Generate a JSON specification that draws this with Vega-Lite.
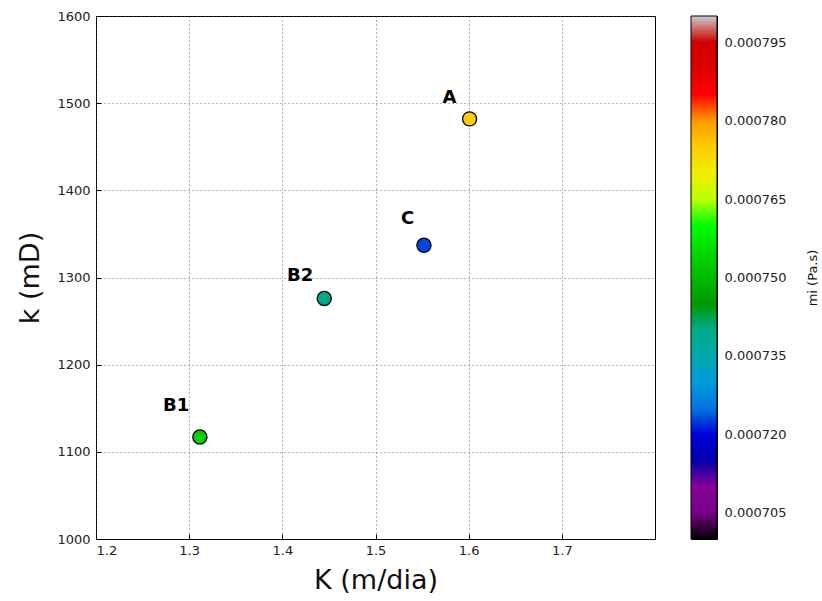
{
  "$schema": "https://vega.github.io/schema/vega-lite/v6.json",
  "padding": {"left": 16, "top": 9, "right": 5, "bottom": 5},
  "config": {
    "font": "DejaVu Sans",
    "view": {"stroke": "black", "strokeWidth": 1},
    "axis": {"labelFont": "DejaVu Sans", "titleFont": "DejaVu Sans", "labelColor": "#222", "titleColor": "#111", "titleFontWeight": "normal", "domain": false, "tickColor": "black"}
  },
  "datasets": {
    "pts": [
      {"name": "A", "K": 1.601, "k": 1482, "mi": 0.000775, "label_x": 1.572, "label_y": 1500},
      {"name": "C", "K": 1.552, "k": 1337, "mi": 0.000723, "label_x": 1.5275, "label_y": 1361},
      {"name": "B2", "K": 1.445, "k": 1276, "mi": 0.00074, "label_x": 1.405, "label_y": 1296},
      {"name": "B1", "K": 1.3115, "k": 1117, "mi": 0.000753, "label_x": 1.272, "label_y": 1147}
    ],
    "bar": [{"lo": 0.0007, "hi": 0.0008}]
  },
  "hconcat": [
    {
      "width": 559,
      "height": 523,
      "data": {"name": "pts"},
      "layer": [
        {
          "mark": {"type": "point", "filled": true, "size": 200, "stroke": "black", "strokeWidth": 1.3, "opacity": 1, "shape": "circle"},
          "encoding": {
            "x": {"field": "K", "type": "quantitative", "scale": {"domain": [1.2, 1.8], "nice": false, "zero": false},
              "axis": {"values": [1.2, 1.3, 1.4, 1.5, 1.6, 1.7], "format": ".1f", "title": "K (m/dia)", "titleFontSize": 27, "labelFontSize": 13, "tickSize": -5, "labelPadding": 10, "titlePadding": 10, "gridDash": [1, 3], "gridColor": "#444", "gridOpacity": 1, "gridWidth": 0.8}},
            "y": {"field": "k", "type": "quantitative", "scale": {"domain": [1000, 1600], "nice": false, "zero": false},
              "axis": {"values": [1000, 1100, 1200, 1300, 1400, 1500, 1600], "format": "d", "title": "k (mD)", "titleFontSize": 27, "labelFontSize": 13, "tickSize": -5, "labelPadding": 11, "titlePadding": 12, "gridDash": [1, 3], "gridColor": "#444", "gridOpacity": 1, "gridWidth": 0.8}},
            "fill": {"field": "mi", "type": "quantitative", "legend": null,
              "scale": {"type": "linear", "interpolate": "rgb",
                "domain": [0.0007, 0.000705, 0.00071, 0.000715, 0.00072, 0.000725, 0.00073, 0.000735, 0.00074, 0.000745, 0.00075, 0.000755, 0.00076, 0.000765, 0.00077, 0.000775, 0.00078, 0.000785, 0.00079, 0.000795, 0.0008],
                "range": ["#000000", "#770088", "#880099", "#0000aa", "#0000dd", "#0077dd", "#0099dd", "#00aaaa", "#00aa88", "#009900", "#00bb00", "#00dd00", "#00ff00", "#bbff00", "#eeee00", "#ffcc00", "#ff9900", "#ff0000", "#dd0000", "#cc0000", "#cccccc"]}}
          }
        },
        {
          "mark": {"type": "text", "align": "left", "baseline": "alphabetic", "fontSize": 18, "fontWeight": "bold", "font": "DejaVu Sans", "color": "black"},
          "encoding": {
            "x": {"field": "label_x", "type": "quantitative"},
            "y": {"field": "label_y", "type": "quantitative"},
            "text": {"field": "name"}
          }
        }
      ]
    },
    {
      "width": 26,
      "height": 523,
      "data": {"name": "bar"},
      "mark": {"type": "rect", "stroke": "black", "strokeWidth": 1,
        "fill": {"gradient": "linear", "x1": 0, "y1": 1, "x2": 0, "y2": 0,
          "stops": [
            {"offset": 0.0, "color": "#000000"}, {"offset": 0.05, "color": "#770088"}, {"offset": 0.1, "color": "#880099"}, {"offset": 0.15, "color": "#0000aa"},
            {"offset": 0.2, "color": "#0000dd"}, {"offset": 0.25, "color": "#0077dd"}, {"offset": 0.3, "color": "#0099dd"}, {"offset": 0.35, "color": "#00aaaa"},
            {"offset": 0.4, "color": "#00aa88"}, {"offset": 0.45, "color": "#009900"}, {"offset": 0.5, "color": "#00bb00"}, {"offset": 0.55, "color": "#00dd00"},
            {"offset": 0.6, "color": "#00ff00"}, {"offset": 0.65, "color": "#bbff00"}, {"offset": 0.7, "color": "#eeee00"}, {"offset": 0.75, "color": "#ffcc00"},
            {"offset": 0.8, "color": "#ff9900"}, {"offset": 0.85, "color": "#ff0000"}, {"offset": 0.9, "color": "#dd0000"}, {"offset": 0.95, "color": "#cc0000"},
            {"offset": 1.0, "color": "#cccccc"}
          ]}},
      "encoding": {
        "y": {"field": "lo", "type": "quantitative", "scale": {"domain": [0.0007, 0.0008], "nice": false, "zero": false},
          "axis": {"orient": "right", "values": [0.000705, 0.00072, 0.000735, 0.00075, 0.000765, 0.00078, 0.000795], "format": ".6f", "grid": false, "title": "mi (Pa.s)", "titleFontSize": 13, "titleAngle": 270, "titleBaseline": "top", "labelFontSize": 13, "tickSize": -5, "labelPadding": 12, "titlePadding": 20}},
        "y2": {"field": "hi"}
      }
    }
  ],
  "spacing": 34
}
